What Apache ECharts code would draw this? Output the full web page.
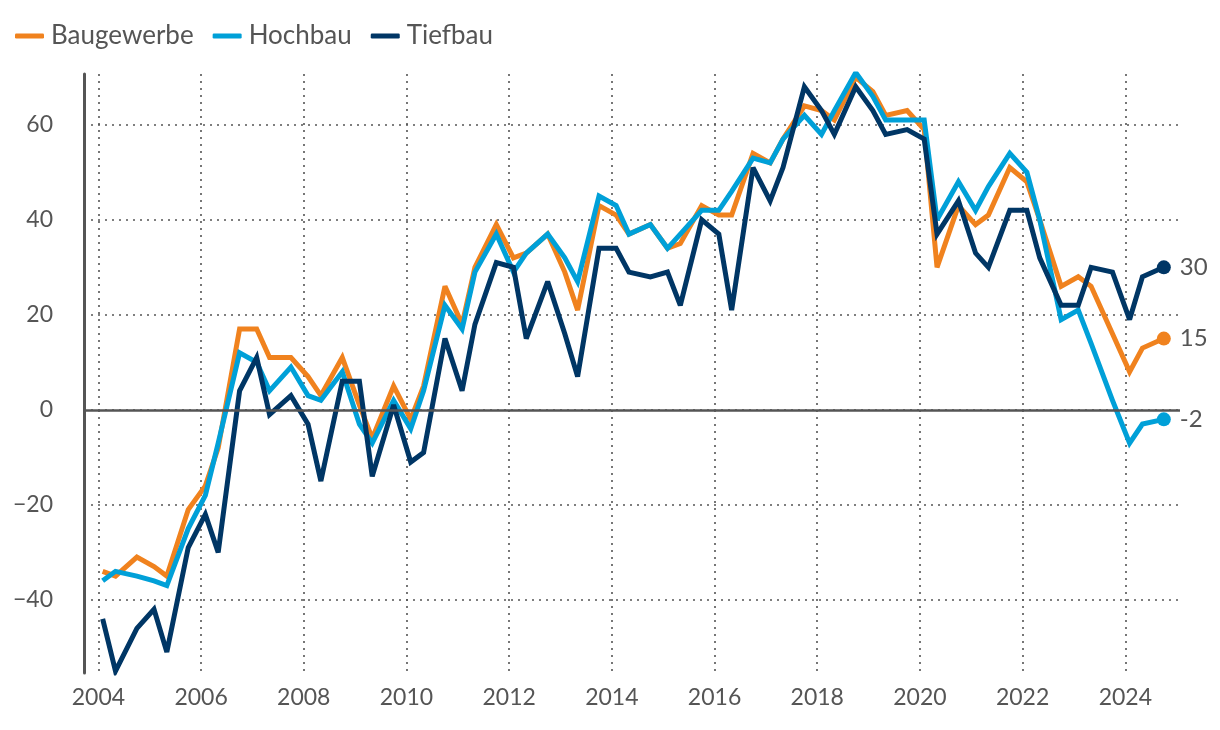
<!DOCTYPE html>
<html>
<head>
<meta charset="utf-8">
<script src="https://cdn.jsdelivr.net/npm/echarts@6/dist/echarts.min.js"></script>
<style>
  html, body { margin: 0; padding: 0; background: #fff; }
  #chart { width: 1220px; height: 730px; }
</style>
</head>
<body>
<div id="chart"></div>
<script>
// survey periods (year-month, three surveys per year)
const periods = [
  '2004-01', '2004-04', '2004-09', '2005-01', '2005-04', '2005-09',
  '2006-01', '2006-04', '2006-09', '2007-01', '2007-04', '2007-09',
  '2008-01', '2008-04', '2008-09', '2009-01', '2009-04', '2009-09',
  '2010-01', '2010-04', '2010-09', '2011-01', '2011-04', '2011-09',
  '2012-01', '2012-04', '2012-09', '2013-01', '2013-04', '2013-09',
  '2014-01', '2014-04', '2014-09', '2015-01', '2015-04', '2015-09',
  '2016-01', '2016-04', '2016-09', '2017-01', '2017-04', '2017-09',
  '2018-01', '2018-04', '2018-09', '2019-01', '2019-04', '2019-09',
  '2020-01', '2020-04', '2020-09', '2021-01', '2021-04', '2021-09',
  '2022-01', '2022-04', '2022-09', '2023-01', '2023-04', '2023-09',
  '2024-01', '2024-04', '2024-09'
]

const baugewerbe = [
  -34, -35, -31, -33, -35, -21, -16, -8, 17, 17, 11, 11,
  7, 3, 11, 1, -6, 5, -2, 5, 26, 18, 30, 39,
  32, 33, 37, 29, 21, 43, 41, 37, 39, 34, 35, 43,
  41, 41, 54, 52, 57, 64, 63, 61, 70, 67, 62, 63,
  59, 30, 43, 39, 41, 51, 48, 40, 26, 28, 26, 16,
  8, 13, 15
]

const hochbau = [
  -36, -34, -35, -36, -37, -25, -18, -7, 12, 10, 4, 9,
  3, 2, 8, -3, -7, 2, -4, 4, 22, 17, 29, 37,
  29, 33, 37, 32, 27, 45, 43, 37, 39, 34, 37, 42,
  42, 46, 53, 52, 57, 62, 58, 63, 71, 66, 61, 61,
  61, 40, 48, 42, 47, 54, 50, 40, 19, 21, 14, 2,
  -7, -3, -2
]

const tiefbau = [
  -44, -55, -46, -42, -51, -29, -22, -30, 4, 11, -1, 3,
  -3, -15, 6, 6, -14, 1, -11, -9, 15, 4, 18, 31,
  30, 15, 27, 16, 7, 34, 34, 29, 28, 29, 22, 40,
  37, 21, 51, 44, 51, 68, 63, 58, 68, 63, 58, 59,
  57, 37, 44, 33, 30, 42, 42, 32, 22, 22, 30, 29,
  19, 28, 30
]

const yearTicks = [2004, 2006, 2008, 2010, 2012, 2014, 2016, 2018, 2020, 2022, 2024]
const valueTicks = [-40, -20, 0, 20, 40, 60]

const colors = { Baugewerbe: '#f0821e', Hochbau: '#00a0d8', Tiefbau: '#003665' }
const textColor = '#555'
const font = 'Lato, "Noto Sans", sans-serif'

// month end as decimal year
function toYear(p) {
  const [y, m] = p.split('-').map(Number)
  return y + m / 12
}

const xs = periods.map(toYear)
const last = periods.length - 1

function makeSeries(name, values) {
  return {
    name,
    type: 'line',
    data: values.map((v, i) => [xs[i], v]),
    color: colors[name],
    symbol: 'circle',
    symbolSize: (v, p) => (p.dataIndex === last ? 14 : 0),
    showSymbol: true,
    lineStyle: { width: 5, join: 'miter', miterLimit: 3 },
    itemStyle: { color: colors[name] },
    endLabel: {
      show: true,
      formatter: p => String(p.value[1]),
      distance: 16,
      color: textColor,
      fontSize: 24,
      fontFamily: font
    },
    emphasis: { disabled: true },
    animation: false
  }
}

const series = [
  makeSeries('Baugewerbe', baugewerbe),
  makeSeries('Hochbau', hochbau),
  makeSeries('Tiefbau', tiefbau)
]

// solid zero line
series[0].markLine = {
  silent: true,
  symbol: 'none',
  label: { show: false },
  lineStyle: { color: '#555', width: 2.5, type: 'solid' },
  data: [{ yAxis: 0 }]
}

const dotted = { color: '#555', width: 1.6, type: [2, 5] }

const chart = echarts.init(document.getElementById('chart'), null, { renderer: 'canvas' })
chart.setOption({
  backgroundColor: '#fff',
  animation: false,
  legend: {
    left: 10,
    top: 18,
    icon: 'roundRect',
    itemWidth: 29,
    itemHeight: 5,
    itemGap: 19,
    selectedMode: false,
    textStyle: { color: textColor, fontSize: 26, fontFamily: font, padding: [0, 0, 0, 2] },
    data: ['Baugewerbe', 'Hochbau', 'Tiefbau']
  },
  grid: { left: 84, right: 40, top: 74, bottom: 57, containLabel: false },
  xAxis: {
    type: 'value',
    min: 2003.72,
    max: 2025.065,
    axisLine: { show: false },
    axisTick: { show: false, customValues: yearTicks },
    axisLabel: {
      customValues: yearTicks,
      formatter: v => String(v),
      color: textColor,
      fontSize: 23,
      fontFamily: font,
      margin: 13
    },
    splitLine: { show: true, lineStyle: dotted }
  },
  yAxis: {
    type: 'value',
    min: -55.4,
    max: 70.7,
    axisLine: { show: true, lineStyle: { color: '#555', width: 3 } },
    axisTick: { show: false, customValues: valueTicks },
    axisLabel: {
      customValues: valueTicks,
      formatter: v => String(v).replace('-', '\u2212'),
      color: textColor,
      fontSize: 23,
      fontFamily: font,
      margin: 31
    },
    splitLine: { show: true, lineStyle: dotted }
  },
  series
})
</script>
</body>
</html>
